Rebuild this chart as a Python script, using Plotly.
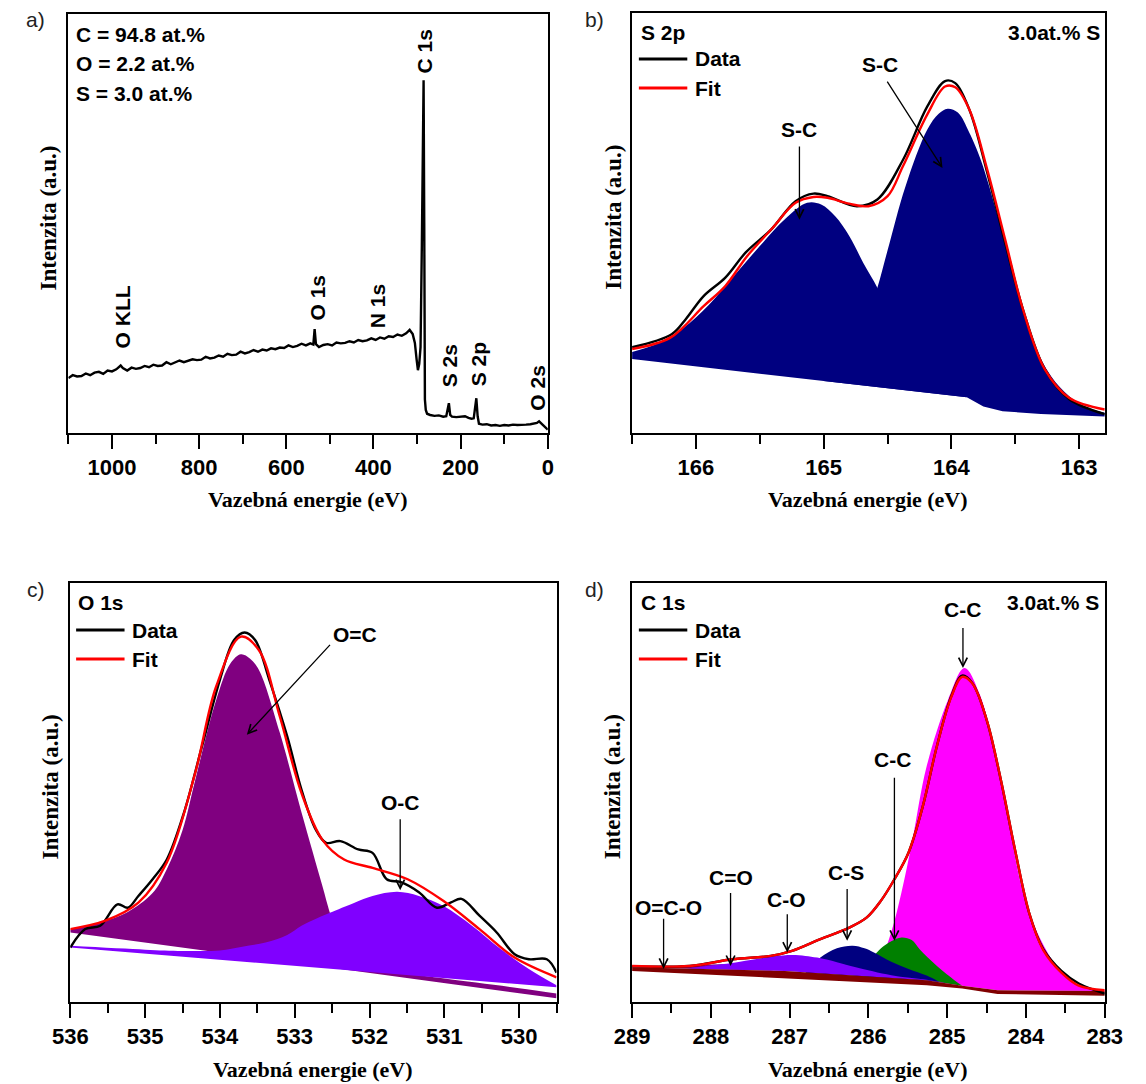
import plotly.graph_objects as go

W, H = 1146, 1084

# ---------------- data ----------------
# a) survey spectrum (binding energy eV, intensity a.u.)
survey_ev = [1100, 1090, 1080, 1070, 1060, 1050, 1040, 1030, 1020, 1010, 1000, 990, 980, 975, 965, 955,
             945, 935, 925, 915, 905, 895, 885, 875, 865, 855, 845, 835, 825, 815, 805, 795, 785, 775,
             765, 755, 745, 735, 725, 715, 705, 695, 685, 675, 665, 655, 645, 635, 625, 615, 605, 595,
             585, 575, 565, 555, 545, 538, 535, 532, 525, 515, 505, 495, 485, 475, 465, 455, 445, 435,
             425, 415, 405, 395, 385, 375, 365, 355, 345, 335, 325, 317, 310, 305, 301, 298, 295, 292,
             289, 286.5, 285, 283.5, 282, 280, 277, 270, 260, 250, 240, 233, 229, 227, 224, 220, 210,
             200, 190, 182, 175, 170, 166, 164, 161, 158, 150, 140, 130, 120, 110, 100, 90, 80, 70, 60,
             50, 40, 30, 25, 20, 16, 10, 5, 0]
survey_int = [13.1, 13.8, 13.5, 13.6, 14.2, 13.8, 14.4, 14.6, 14.1, 14.9, 14.7, 15.2, 16.1, 15.5, 14.9, 15.6,
              15.3, 15.5, 16.0, 15.7, 16.3, 16.0, 16.1, 16.9, 16.4, 16.8, 17.3, 16.9, 17.2, 17.6, 17.4, 17.5,
              18.2, 17.8, 18.0, 18.5, 18.2, 18.9, 18.6, 18.7, 19.4, 19.0, 19.3, 19.8, 19.4, 19.9, 19.7, 20.2,
              20.0, 20.4, 20.3, 20.9, 20.5, 20.8, 21.3, 20.9, 21.4, 21.1, 24.8, 21.2, 20.5, 21.0, 21.2, 20.9,
              21.6, 21.4, 21.5, 21.9, 21.6, 22.2, 21.9, 22.1, 22.6, 22.2, 22.8, 22.5, 23.1, 22.9, 23.5, 23.2,
              23.8, 24.6, 23.6, 21.5, 17.5, 15.0, 16.5, 20.5, 45.0, 80.0, 84.2, 50.0, 8.0, 5.5, 4.6, 4.3,
              4.1, 4.2, 3.9, 4.0, 6.0, 7.1, 4.3, 3.9, 3.8, 3.9, 4.0, 3.6, 3.4, 3.5, 6.5, 8.3, 4.0, 2.2, 2.0,
              2.1, 1.8, 1.9, 1.7, 1.9, 1.8, 2.0, 1.9, 1.9, 2.0, 2.1, 2.2, 2.4, 2.8, 2.4, 1.8, 1.3, 0.8]
survey_composition = ["C = 94.8 at.%", "O = 2.2 at.%", "S = 3.0 at.%"]
survey_peak_names = ["O KLL", "O 1s", "N 1s", "C 1s", "S 2s", "S 2p", "O 2s"]
survey_peak_ev = [975, 528, 389, 283.5, 226.7, 160, 23]
survey_peak_lab_y = [19.8, 26.3, 24.6, 85.4, 10.3, 10.7, 4.8]

# b) S 2p
s2p_data_x = [166.5, 166.19, 166.08, 165.94, 165.77, 165.61, 165.41, 165.22, 165.08, 164.97, 164.74, 164.58,
              164.38, 164.19, 164.05, 163.97, 163.86, 163.72, 163.58, 163.44, 163.27, 163.08, 162.8]
s2p_data_y = [20.4, 23.5, 27.1, 32.6, 37.0, 43.0, 48.5, 55.2, 57.0, 56.4, 54.0, 55.6,
              65.0, 77.7, 83.8, 83.3, 77.0, 62.0, 45.3, 29.4, 15.2, 8.1, 4.5]
s2p_fit_x = [166.5, 166.2, 165.94, 165.77, 165.6, 165.41, 165.22, 165.08, 164.97, 164.8, 164.65, 164.5,
             164.38, 164.19, 164.05, 163.97, 163.86, 163.72, 163.58, 163.44, 163.27, 163.08, 162.8]
s2p_fit_y = [20.0, 22.7, 30.2, 35.0, 42.1, 48.5, 54.8, 56.2, 56.0, 54.6, 54.0, 56.4,
             63.5, 75.8, 82.5, 82.3, 77.0, 62.7, 46.1, 29.4, 15.2, 8.4, 5.6]
s2p_p1_x = [166.5, 166.3, 166.1, 165.9, 165.7, 165.5, 165.3, 165.13, 165.02, 164.91, 164.8, 164.69,
            164.58, 164.5, 164.35, 164.2, 164.0, 163.88]
s2p_p1_y = [19.3, 21.3, 25.0, 30.5, 37.5, 44.5, 51.0, 54.8, 54.4, 51.6, 46.9, 40.5,
            34.6, 29.0, 21.0, 15.0, 10.8, 8.5]
s2p_p1_base_x = [166.5, 163.88]
s2p_p1_base_y = [17.6, 8.5]
s2p_p2_x = [165.0, 164.85, 164.7, 164.58, 164.5, 164.36, 164.19, 164.1, 164.03, 163.95, 163.86, 163.77,
            163.63, 163.49, 163.36, 163.22, 163.08, 162.95, 162.8]
s2p_p2_y = [12.4, 16.0, 24.0, 34.6, 43.5, 58.7, 72.2, 76.0, 77.2, 76.3, 71.5, 65.0,
            50.8, 35.0, 21.6, 13.5, 8.8, 6.2, 4.8]
s2p_p2_base_x = [165.0, 163.88, 163.75, 163.6, 163.3, 162.8]
s2p_p2_base_y = [12.4, 8.5, 6.3, 5.2, 4.5, 3.9]

# c) O 1s
o1s_data_x = [536.0, 535.8, 535.6, 535.37, 535.23, 535.09, 534.9, 534.71, 534.48, 534.24, 534.0, 533.81,
              533.67, 533.53, 533.34, 533.1, 532.91, 532.72, 532.58, 532.39, 532.15, 531.96, 531.77,
              531.58, 531.34, 531.1, 530.91, 530.77, 530.53, 530.3, 530.06, 529.87, 529.63, 529.5]
o1s_data_y = [13.0, 17.4, 18.2, 23.3, 22.5, 25.3, 29.3, 34.0, 45.2, 61.0, 76.9, 86.4,
              88.2, 86.4, 76.9, 63.4, 50.7, 41.2, 38.0, 38.4, 36.4, 35.6, 29.3,
              28.6, 26.2, 22.5, 23.8, 24.6, 20.6, 16.6, 11.4, 10.2, 10.2, 7.0]
o1s_fit_x = [536.0, 535.53, 535.09, 534.71, 534.33, 534.05, 533.72, 533.48, 533.2, 532.91, 532.63,
             532.34, 531.96, 531.49, 531.01, 530.53, 530.06, 529.5]
o1s_fit_y = [17.4, 19.4, 23.7, 33.3, 54.7, 75.3, 87.2, 84.0, 68.2, 49.9, 38.7,
             34.0, 32.0, 29.3, 24.1, 17.4, 10.6, 5.9]
o1s_oc1_x = [536.0, 535.6, 535.25, 534.9, 534.71, 534.5, 534.33, 534.05, 533.86, 533.72, 533.6, 533.48,
             533.2, 532.91, 532.63, 532.53, 532.4, 532.3, 532.0, 531.5, 531.0, 530.0, 529.5]
o1s_oc1_y = [17.3, 19.0, 21.3, 26.0, 31.7, 41.0, 53.0, 72.1, 80.8, 83.0, 82.0, 79.3,
             64.3, 45.3, 27.7, 21.3, 14.0, 10.5, 8.0, 6.8, 5.6, 3.3, 2.0]
o1s_oc1_base_x = [536.0, 529.5]
o1s_oc1_base_y = [16.6, 0.9]
o1s_oc2_x = [536.0, 535.0, 534.5, 534.0, 533.7, 533.39, 533.1, 532.91, 532.7, 532.53, 532.2, 531.96,
             531.63, 531.34, 531.01, 530.63, 530.25, 529.87, 529.5]
o1s_oc2_y = [13.4, 12.5, 12.2, 12.3, 13.2, 14.2, 16.0, 18.2, 20.0, 21.3, 23.7, 25.3,
             26.3, 25.3, 22.9, 18.2, 12.7, 7.9, 4.0]
o1s_oc2_base_x = [536.0, 529.5]
o1s_oc2_base_y = [13.0, 3.5]

# d) C 1s
c1s_data_x = [289.0, 288.27, 287.73, 287.24, 286.97, 286.61, 286.25, 286.02, 285.84, 285.67, 285.49, 285.31,
              285.13, 284.95, 284.81, 284.68, 284.5, 284.32, 284.14, 283.96, 283.78, 283.55, 283.33, 283.0]
c1s_data_y = [8.5, 8.6, 10.2, 11.0, 12.2, 15.0, 17.7, 20.2, 24.2, 29.3, 35.7, 46.7,
              61.1, 72.9, 77.9, 76.1, 67.4, 53.1, 36.4, 21.3, 12.6, 7.4, 4.4, 2.0]
c1s_fit_y = [8.6, 8.6, 10.2, 11.0, 12.2, 15.0, 17.7, 20.2, 24.2, 29.3, 35.7, 46.7,
             61.1, 72.7, 77.6, 76.0, 67.4, 53.1, 36.4, 21.3, 12.4, 7.0, 3.9, 2.8]
c1s_cc_x = [286.1, 286.02, 285.84, 285.71, 285.58, 285.44, 285.26, 284.99, 284.78, 284.59, 284.32,
            283.96, 283.55, 283.28, 283.0]
c1s_cc_y = [6.1, 6.5, 10.3, 16.7, 26.2, 38.8, 56.3, 72.1, 79.7, 73.6, 53.1, 21.3, 7.1, 3.6, 2.8]
c1s_cc_base_x = [286.1, 285.26, 284.81, 284.36, 283.0]
c1s_cc_base_y = [6.1, 5.2, 3.9, 2.8, 2.6]
c1s_cc2_x = [286.1, 285.95, 285.84, 285.71, 285.58, 285.45, 285.35, 285.13, 284.9, 284.81]
c1s_cc2_y = [6.1, 10.5, 12.8, 14.5, 15.4, 14.8, 12.6, 8.6, 5.1, 3.9]
c1s_cc2_base_x = [286.1, 285.26, 284.81]
c1s_cc2_base_y = [6.1, 5.2, 3.9]
c1s_cs_x = [286.8, 286.61, 286.4, 286.2, 286.05, 285.93, 285.71, 285.49, 285.26, 285.1]
c1s_cs_y = [7.0, 10.6, 12.8, 13.4, 12.8, 11.8, 9.6, 7.9, 6.3, 4.8]
c1s_cs_base_x = [286.8, 285.26, 285.1]
c1s_cs_base_y = [7.0, 5.2, 4.8]
c1s_co2_x = [288.7, 288.4, 288.1, 287.8, 287.5, 287.2]
c1s_co2_y = [8.1, 8.6, 8.9, 9.0, 8.3, 7.5]
c1s_co2_base_x = [288.7, 287.2]
c1s_co2_base_y = [8.1, 7.5]
c1s_co_x = [288.3, 288.0, 287.73, 287.4, 287.2, 286.97, 286.8, 286.65, 286.4, 286.16, 285.71, 285.26, 285.0]
c1s_co_y = [8.0, 8.7, 9.3, 10.3, 10.9, 11.2, 11.0, 10.6, 9.5, 8.3, 6.4, 5.3, 4.5]
c1s_co_base_x = [288.3, 287.06, 285.26, 285.0]
c1s_co_base_y = [8.0, 7.4, 5.2, 4.5]
c1s_bg_x = [289.0, 287.06, 285.26, 284.81, 284.36, 283.0]
c1s_bg_top = [8.3, 7.4, 5.2, 3.9, 2.8, 2.6]
c1s_bg_bot = [7.4, 5.7, 4.0, 3.2, 1.9, 1.5]

# ---------------- figure ----------------
SANS = "Liberation Sans"
SERIF = "Liberation Serif"
NAVY, PURPLE, VIOLET = "#000080", "#800080", "#8000FF"
MAGENTA, GREEN, MAROON = "#FF00FF", "#008000", "#800000"


def px(x):
    return x / W


def py(y):
    return 1 - y / H


# panel boxes in pixels: left, right, top, bottom
BOX = {1: (52, 547, 14, 433), 2: (634, 1122, 13, 433),
       3: (54, 556, 583, 1002), 4: (634, 1122, 583, 1002)}

fig = go.Figure()


def ax_names(i):
    return ("x" if i == 1 else f"x{i}"), ("y" if i == 1 else f"y{i}")


def line(i, x, y, color, width, shape="spline"):
    xa, ya = ax_names(i)
    fig.add_trace(go.Scatter(x=x, y=y, mode="lines", xaxis=xa, yaxis=ya,
                             line=dict(color=color, width=width, shape=shape),
                             hoverinfo="skip", showlegend=False))


def peak(i, bx, by, x, y, color, shape="spline"):
    xa, ya = ax_names(i)
    fig.add_trace(go.Scatter(x=bx, y=by, mode="lines", xaxis=xa, yaxis=ya,
                             line=dict(width=0, color=color), hoverinfo="skip", showlegend=False))
    fig.add_trace(go.Scatter(x=x, y=y, mode="lines", xaxis=xa, yaxis=ya, fill="tonexty",
                             fillcolor=color, line=dict(width=0, color=color, shape=shape),
                             hoverinfo="skip", showlegend=False))


# a) survey
line(1, survey_ev, survey_int, "black", 2.4, shape="linear")

# b) S 2p
peak(2, s2p_p1_base_x, s2p_p1_base_y, s2p_p1_x, s2p_p1_y, NAVY)
peak(2, s2p_p2_base_x, s2p_p2_base_y, s2p_p2_x, s2p_p2_y, NAVY)
line(2, s2p_data_x, s2p_data_y, "black", 2.4)
line(2, s2p_fit_x, s2p_fit_y, "#FF0000", 2.4)

# c) O 1s
peak(3, o1s_oc1_base_x, o1s_oc1_base_y, o1s_oc1_x, o1s_oc1_y, PURPLE)
peak(3, o1s_oc2_base_x, o1s_oc2_base_y, o1s_oc2_x, o1s_oc2_y, VIOLET)
line(3, o1s_data_x, o1s_data_y, "black", 2.4)
line(3, o1s_fit_x, o1s_fit_y, "#FF0000", 2.4)

# d) C 1s
peak(4, c1s_cc_base_x, c1s_cc_base_y, c1s_cc_x, c1s_cc_y, MAGENTA)
peak(4, c1s_cc2_base_x, c1s_cc2_base_y, c1s_cc2_x, c1s_cc2_y, GREEN)
peak(4, c1s_cs_base_x, c1s_cs_base_y, c1s_cs_x, c1s_cs_y, NAVY)
peak(4, c1s_co2_base_x, c1s_co2_base_y, c1s_co2_x, c1s_co2_y, PURPLE)
peak(4, c1s_co_base_x, c1s_co_base_y, c1s_co_x, c1s_co_y, VIOLET)
peak(4, c1s_bg_x, c1s_bg_bot, c1s_bg_x, c1s_bg_top, MAROON, shape="linear")
line(4, c1s_data_x, c1s_data_y, "black", 2.4)
line(4, c1s_data_x, c1s_fit_y, "#FF0000", 2.4)

# ---------------- axes ----------------
def xaxis(i, rng, dtick, minor):
    l, r, t, b = BOX[i]
    _, ya = ax_names(i)
    return dict(domain=[px(l), px(r)], range=rng, anchor=ya, showline=True, linewidth=2,
                linecolor="black", mirror=True, ticks="outside", ticklen=14, tickwidth=2,
                tickcolor="black", tick0=0, dtick=dtick,
                minor=dict(ticks="outside", ticklen=9, tickwidth=2, tickcolor="black",
                           dtick=minor, tick0=0),
                tickfont=dict(family=SANS, size=22, color="black", weight="bold"),
                ticklabelstandoff=0, showgrid=False, zeroline=False, fixedrange=True)


def yaxis(i):
    l, r, t, b = BOX[i]
    xa, _ = ax_names(i)
    return dict(domain=[py(b), py(t)], range=[0, 100], anchor=xa, showline=True, linewidth=2,
                linecolor="black", mirror=True, ticks="", showticklabels=False,
                showgrid=False, zeroline=False, fixedrange=True)


layout = dict(width=W, height=H, autosize=False, margin=dict(l=0, r=0, t=0, b=0),
              paper_bgcolor="white", plot_bgcolor="white", showlegend=False)
layout["xaxis"] = xaxis(1, [1100, 0], 200, 100)
layout["xaxis2"] = xaxis(2, [166.5, 162.8], 1, 0.5)
layout["xaxis3"] = xaxis(3, [536, 529.5], 1, 0.5)
layout["xaxis4"] = xaxis(4, [289, 283], 1, 0.5)
for i in range(1, 5):
    layout["yaxis" if i == 1 else f"yaxis{i}"] = yaxis(i)
fig.update_layout(**layout)

# ---------------- annotations ----------------
ann = []
shapes = []


def ptext(x, y, text, xanchor="left", size=21, family=SANS, bold=True, angle=0, color="black"):
    ann.append(dict(x=px(x), y=py(y), xref="paper", yref="paper", text=(f"<b>{text}</b>" if bold else text),
                    showarrow=False, xanchor=xanchor, yanchor="middle", textangle=angle,
                    font=dict(family=family, size=size, color=color)))


def dtext(i, x, y, text, yanchor="middle", angle=0):
    xa, ya = ax_names(i)
    ann.append(dict(x=x, y=y, xref=xa, yref=ya, text=f"<b>{text}</b>", showarrow=False,
                    xanchor="center", yanchor=yanchor, textangle=angle,
                    font=dict(family=SANS, size=21, color="black")))


def arrow(i, x0, y0, x1, y1):
    xa, ya = ax_names(i)
    ann.append(dict(x=x1, y=y1, ax=x0, ay=y0, xref=xa, yref=ya, axref=xa, ayref=ya, text="",
                    showarrow=True, arrowhead=5, arrowsize=1.3, arrowwidth=1.3, arrowcolor="black"))


# panel letters
for (x, y), lab in zip([(18, 20), (595, 20), (19, 589), (595, 589)], ["a)", "b)", "c)", "d)"]):
    ptext(x, y, lab, xanchor="center", bold=False, color="#222")

# axis titles
for i in range(1, 5):
    l, r, t, b = BOX[i]
    ptext((l + r) / 2, b + 67, "Vazebná energie (eV)", xanchor="center", size=22, family=SERIF)
    ptext(l - 20, (t + b) / 2 - 6, "Intenzita (a.u.)", xanchor="center", size=23, family=SERIF, angle=-90)

# a) texts
for k, s in enumerate(survey_composition):
    ptext(58, 35 + 29 * k, s)
for name, ev, yy in zip(survey_peak_names, survey_peak_ev, survey_peak_lab_y):
    dtext(1, ev, yy, name, yanchor="bottom", angle=-90)


# legends and headers
def legend(xl, y1, y2):
    shapes.append(dict(type="line", xref="paper", yref="paper", x0=px(xl), x1=px(xl + 50),
                       y0=py(y1), y1=py(y1), line=dict(color="black", width=3)))
    shapes.append(dict(type="line", xref="paper", yref="paper", x0=px(xl), x1=px(xl + 50),
                       y0=py(y2), y1=py(y2), line=dict(color="#FF0000", width=3)))
    ptext(xl + 56, y1, "Data")
    ptext(xl + 56, y2, "Fit")


ptext(641, 33, "S 2p")
ptext(1119, 33, "3.0at.% S", xanchor="right")
legend(641, 59, 88)
ptext(60, 602, "O 1s")
legend(60, 630, 659)
ptext(641, 602, "C 1s")
ptext(1118, 602, "3.0at.% S", xanchor="right")
legend(641, 630, 659)

# b) arrows
dtext(2, 165.19, 72.2, "S-C")
arrow(2, 165.19, 68.6, 165.19, 50.8)
dtext(2, 164.56, 87.8, "S-C")
arrow(2, 164.51, 84.0, 164.07, 63.1)

# c) arrows
dtext(3, 532.2, 87.6, "O=C")
arrow(3, 532.51, 85.6, 533.64, 63.8)
dtext(3, 531.59, 47.5, "O-C")
arrow(3, 531.59, 44.0, 531.59, 26.7)

# d) arrows
for lx, ly, text, ax_, y0, y1 in [(288.54, 22.5, "O=C-O", 288.6, 20.2, 7.9),
                                  (287.75, 29.7, "C=O", 287.75, 26.4, 8.6),
                                  (287.04, 24.5, "C-O", 287.03, 21.3, 11.8),
                                  (286.29, 31.0, "C-S", 286.27, 27.3, 14.6),
                                  (285.69, 57.9, "C-C", 285.67, 53.9, 14.6),
                                  (284.8, 93.6, "C-C", 284.8, 89.6, 79.7)]:
    dtext(4, lx, ly, text)
    arrow(4, ax_, y0, ax_, y1)

fig.update_layout(annotations=ann, shapes=shapes)
fig.write_html("out.html", config={"displayModeBar": False, "staticPlot": True},
               post_script="document.body.style.margin='0px';document.body.style.padding='0px';"
                           "document.documentElement.style.overflow='hidden';")
